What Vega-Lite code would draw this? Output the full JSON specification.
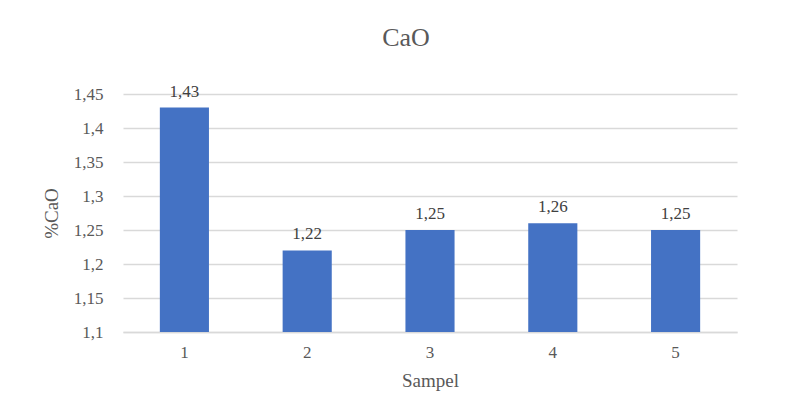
{
  "$schema": "https://vega.github.io/schema/vega-lite/v6.json",
  "width": 614,
  "height": 238,
  "autosize": {"type": "none"},
  "padding": {"left": 123, "top": 94, "right": 53, "bottom": 75},
  "background": "white",
  "config": {
    "locale": {"number": {"decimal": ",", "thousands": ".", "grouping": [3], "currency": ["", " €"]}},
    "font": "Times New Roman, Liberation Serif, serif",
    "view": {"stroke": null},
    "title": {"font": "Times New Roman, Liberation Serif, serif", "fontSize": 26, "fontWeight": "normal", "color": "#595959"}
  },
  "title": {"text": "CaO", "baseline": "alphabetic", "offset": 11, "dx": -24, "anchor": "middle"},
  "data": {
    "values": [
      {"Sampel": "1", "CaO": 1.43},
      {"Sampel": "2", "CaO": 1.22},
      {"Sampel": "3", "CaO": 1.25},
      {"Sampel": "4", "CaO": 1.26},
      {"Sampel": "5", "CaO": 1.25}
    ]
  },
  "encoding": {
    "x": {
      "field": "Sampel", "type": "nominal",
      "scale": {"paddingInner": 0.6, "paddingOuter": 0.3},
      "axis": {
        "labelAngle": 0, "ticks": false, "domainColor": "#d9d9d9", "domainWidth": 1.5,
        "labelFont": "Times New Roman, Liberation Serif, serif", "labelFontSize": 17, "labelColor": "#595959", "labelPadding": 12,
        "title": "Sampel", "titleFont": "Times New Roman, Liberation Serif, serif", "titleFontSize": 19, "titleFontWeight": "normal",
        "titleColor": "#595959", "titleBaseline": "alphabetic", "titleY": 54
      }
    },
    "y": {
      "field": "CaO", "type": "quantitative",
      "scale": {"domain": [1.1, 1.45], "zero": false, "nice": false},
      "axis": {
        "values": [1.1, 1.15, 1.2, 1.25, 1.3, 1.35, 1.4, 1.45],
        "format": ".2~f", "domain": false, "ticks": false,
        "gridColor": "#d9d9d9", "gridWidth": 1.5,
        "labelFont": "Times New Roman, Liberation Serif, serif", "labelFontSize": 17, "labelColor": "#595959", "labelPadding": 20,
        "title": "%CaO", "titleFont": "Times New Roman, Liberation Serif, serif", "titleFontSize": 19, "titleFontWeight": "normal",
        "titleColor": "#595959", "titleX": -66, "titleY": 119, "titleBaseline": "alphabetic", "titleAngle": -90, "titleAlign": "center"
      }
    }
  },
  "layer": [
    {"mark": {"type": "bar", "color": "#4472C4", "clip": true}},
    {
      "mark": {"type": "text", "baseline": "alphabetic", "dy": -11, "fontSize": 17, "color": "#404040", "font": "Times New Roman, Liberation Serif, serif"},
      "encoding": {"text": {"field": "CaO", "type": "quantitative", "format": ".2f"}}
    }
  ]
}
